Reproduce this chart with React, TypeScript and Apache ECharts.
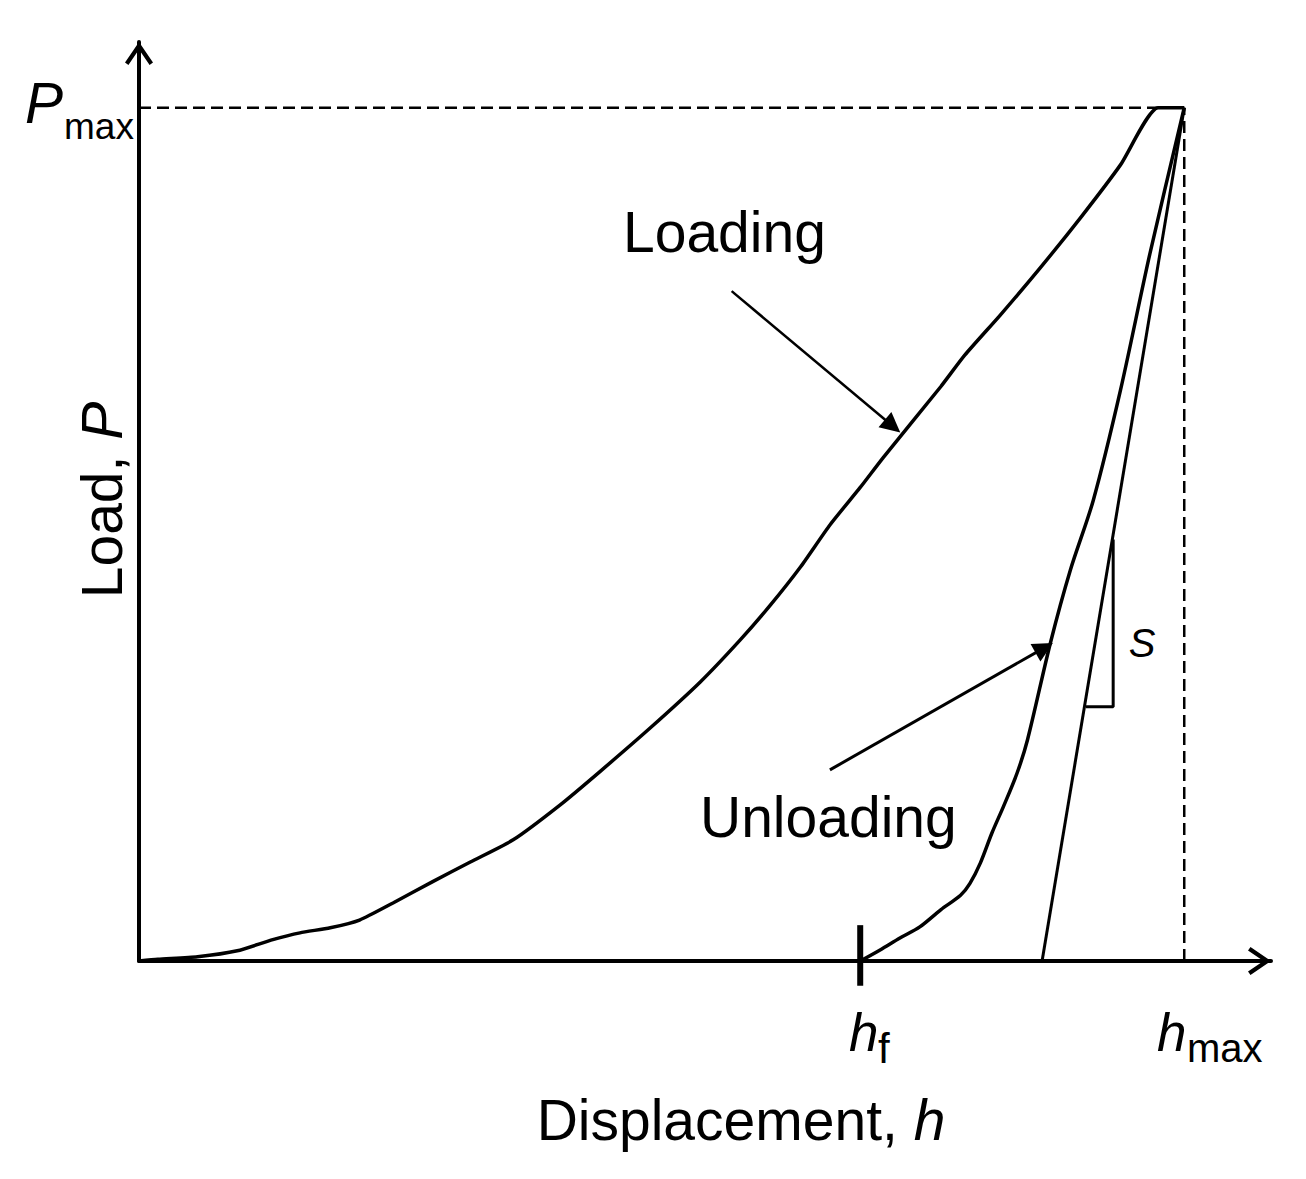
import React, { useEffect, useRef } from "react";
import * as echarts from "echarts";

// Normalised units: h / hmax and P / Pmax
const LOAD_H = [0, 0.018, 0.056, 0.094, 0.128, 0.154, 0.183, 0.211, 0.243, 0.281, 0.317, 0.358, 0.403, 0.441, 0.489, 0.537, 0.575, 0.604, 0.633, 0.661, 0.690, 0.712, 0.767, 0.790, 0.824, 0.862, 0.902, 0.939, 0.975, 1.0];
const LOAD_P = [0, 0.002, 0.005, 0.012, 0.025, 0.033, 0.039, 0.048, 0.068, 0.093, 0.116, 0.142, 0.183, 0.222, 0.273, 0.327, 0.376, 0.417, 0.462, 0.511, 0.555, 0.590, 0.673, 0.710, 0.757, 0.812, 0.873, 0.933, 1.0, 1.0];

const UNLOAD_H = [0.690, 0.709, 0.728, 0.747, 0.767, 0.786, 0.795, 0.805, 0.816, 0.827, 0.840, 0.850, 0.872, 0.891, 0.913, 0.939, 0.967, 1.0];
const UNLOAD_P = [0, 0.013, 0.027, 0.040, 0.060, 0.077, 0.091, 0.115, 0.150, 0.181, 0.220, 0.259, 0.373, 0.458, 0.540, 0.669, 0.828, 1.0];

const TANGENT_H = [0.864, 1.0];
const TANGENT_P = [0, 1.0];

const S_TRI_H = [0.906, 0.932, 0.932];
const S_TRI_P = [0.298, 0.298, 0.494];

const H_F = 0.690;
const H_MAX = 1.0;
const P_MAX = 1.0;
const X_MAX = 1.083;
const Y_MAX = 1.077;

const LOADING_ARROW = [[0.567, 0.785], [0.721, 0.627]];
const UNLOADING_ARROW = [[0.661, 0.224], [0.866, 0.367]];

const FONT = "'Liberation Sans', Arial, sans-serif";
const CHEVRON = "path://M14 0 L28 20.5 L24.6 23 L14 7.5 L3.4 23 L0 20.5 Z";

const zip = (a: number[], b: number[]) => a.map((v, i) => [v, b[i]]);

export default function App() {
  const ref = useRef<HTMLDivElement>(null);
  useEffect(() => {
    if (!ref.current) return;
    const chart = echarts.init(ref.current, null, { renderer: "svg" });
    const black = "#000";
    const plain = (data: number[][], width: number, extra: any = {}, lineType: any = "solid") => ({
      type: "line",
      data,
      symbol: "none",
      silent: true,
      clip: false,
      lineStyle: { color: black, width, type: lineType },
      ...extra,
    });
    const arrowLine = (pts: number[][], width: number) => ({
      type: "line",
      data: [],
      silent: true,
      markLine: {
        silent: true,
        symbol: ["none", "triangle"],
        symbolSize: 20,
        label: { show: false },
        emphasis: { disabled: true },
        lineStyle: { color: black, width, type: "solid" },
        data: [[{ coord: pts[0] }, { coord: pts[1] }]],
      },
    });
    const axisCommon = {
      type: "value",
      min: 0,
      axisLine: {
        show: true,
        onZero: false,
        symbol: ["none", CHEVRON],
        symbolSize: [28, 23],
        symbolOffset: [0, -11.5],
        lineStyle: { color: black, width: 4 },
      },
      axisTick: { show: false },
      axisLabel: { show: false },
      splitLine: { show: false },
    };
    chart.setOption({
      animation: false,
      backgroundColor: "#fff",
      grid: { left: 139, right: 35, top: 42, bottom: 218 },
      xAxis: { ...axisCommon, max: X_MAX },
      yAxis: { ...axisCommon, max: Y_MAX },
      series: [
        plain([[0, P_MAX], [H_MAX, P_MAX]], 2.5, {}, [12, 6]),
        plain([[H_MAX, 0], [H_MAX, P_MAX]], 2.5, {}, [12, 6]),
        plain(zip(LOAD_H, LOAD_P), 3.5, { smooth: 0.2 }),
        plain(zip(UNLOAD_H, UNLOAD_P), 3.5, { smooth: 0.3 }),
        plain(zip(TANGENT_H, TANGENT_P), 3),
        plain(zip(S_TRI_H, S_TRI_P), 3),
        plain([[H_F, 0.042], [H_F, -0.029]], 6),
        arrowLine(LOADING_ARROW, 2.5),
        arrowLine(UNLOADING_ARROW, 3),
      ],
      graphic: [
        { type: "text", x: 623, y: 232, style: { text: "Loading", font: `57px ${FONT}`, fill: black, align: "left", verticalAlign: "middle" } },
        { type: "text", x: 700, y: 817, style: { text: "Unloading", font: `57px ${FONT}`, fill: black, align: "left", verticalAlign: "middle" } },
        {
          type: "text", x: 741, y: 1120,
          style: {
            text: "{a|Displacement, }{b|h}", align: "center", verticalAlign: "middle",
            rich: {
              a: { fontFamily: FONT, fontSize: 57, fill: black },
              b: { fontFamily: FONT, fontSize: 57, fontStyle: "italic", fill: black },
            },
          },
        },
        {
          type: "text", x: 102, y: 500, rotation: Math.PI / 2,
          style: {
            text: "{a|Load, }{b|P}", align: "center", verticalAlign: "middle",
            rich: {
              a: { fontFamily: FONT, fontSize: 57, fill: black },
              b: { fontFamily: FONT, fontSize: 57, fontStyle: "italic", fill: black },
            },
          },
        },
        { type: "text", x: 25, y: 103, style: { text: "P", font: `italic 57px ${FONT}`, fill: black, align: "left", verticalAlign: "middle" } },
        { type: "text", x: 64, y: 126, style: { text: "max", font: `37px ${FONT}`, fill: black, align: "left", verticalAlign: "middle" } },
        { type: "text", x: 849, y: 1032, style: { text: "h", font: `italic 53px ${FONT}`, fill: black, align: "left", verticalAlign: "middle" } },
        { type: "text", x: 878, y: 1048, style: { text: "f", font: `42px ${FONT}`, fill: black, align: "left", verticalAlign: "middle" } },
        { type: "text", x: 1157, y: 1032, style: { text: "h", font: `italic 53px ${FONT}`, fill: black, align: "left", verticalAlign: "middle" } },
        { type: "text", x: 1187, y: 1048, style: { text: "max", font: `40px ${FONT}`, fill: black, align: "left", verticalAlign: "middle" } },
        { type: "text", x: 1142, y: 643, style: { text: "S", font: `italic 40px ${FONT}`, fill: black, align: "center", verticalAlign: "middle" } },
      ],
    });
    return () => chart.dispose();
  }, []);
  return (
    <div
      ref={ref}
      style={{ position: "absolute", left: 0, top: 0, width: 1306, height: 1179, background: "#fff" }}
    />
  );
}
